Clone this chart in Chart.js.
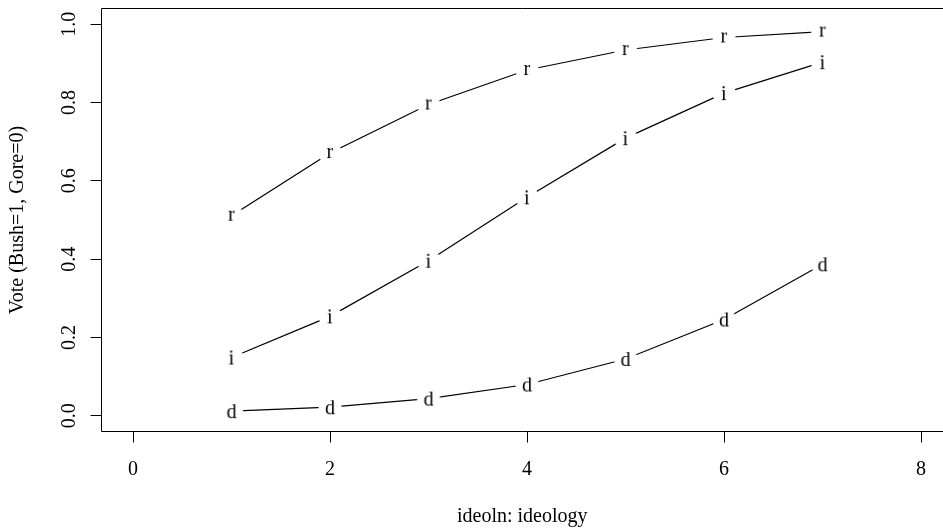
<!DOCTYPE html>
<html>
<head>
<meta charset="utf-8">
<script src="https://cdn.jsdelivr.net/npm/chart.js@4/dist/chart.umd.min.js"></script>
<style>
  html, body { margin: 0; padding: 0; background: #fff; overflow: hidden; }
  canvas { display: block; }
</style>
</head>
<body>
<canvas id="c" width="943" height="529"></canvas>
<script>
// ---- data ----
const ideology = [1, 2, 3, 4, 5, 6, 7];
const repVote  = [0.511, 0.671, 0.795, 0.883, 0.934, 0.966, 0.981];
const indVote  = [0.149, 0.254, 0.396, 0.558, 0.709, 0.824, 0.903];
const demVote  = [0.012, 0.022, 0.044, 0.080, 0.145, 0.246, 0.387];
const seriesLetters = ['r', 'i', 'd'];
const xTicks = [0, 2, 4, 6, 8];
const xTickLabels = ['0', '2', '4', '6', '8'];
const yTicks = [0, 0.2, 0.4, 0.6, 0.8, 1.0];
const yTickLabels = ['0.0', '0.2', '0.4', '0.6', '0.8', '1.0'];
const xTitle = 'ideoln: ideology';
const yTitle = 'Vote (Bush=1, Gore=0)';

const FAMILY = '"Liberation Serif", "Times New Roman", serif';
const FSIZE = 20;

// letter markers with a white gap around them (like R type = "b")
function letterMarker(ch) {
  const c = document.createElement('canvas');
  c.width = 30; c.height = 30;
  const g = c.getContext('2d');
  g.fillStyle = '#fff';
  g.beginPath(); g.arc(15, 15, 11.5, 0, Math.PI * 2); g.fill();
  g.font = FSIZE + 'px ' + FAMILY;
  g.fillStyle = '#000';
  g.textBaseline = 'alphabetic';
  g.textAlign = 'left';
  const m = g.measureText(ch);
  const L = m.actualBoundingBoxLeft, R = m.actualBoundingBoxRight;
  const A = m.actualBoundingBoxAscent, D = m.actualBoundingBoxDescent;
  g.fillText(ch, 15 - (R - L) / 2, 15 + (A - D) / 2);
  return c;
}

function toPoints(ys) { return ideology.map((x, k) => ({ x: x, y: ys[k] })); }

const seriesValues = [repVote, indVote, demVote];
const datasets = seriesValues.map((vals, k) => ({
  label: seriesLetters[k],
  data: toPoints(vals),
  borderColor: '#000',
  borderWidth: 1.2,
  tension: 0,
  fill: false,
  pointStyle: letterMarker(seriesLetters[k]),
  pointRadius: 3,
  pointHoverRadius: 3
}));

// plot frame: the right side of the frame lies outside the cropped picture
const boxPlugin = {
  id: 'box',
  afterDatasetsDraw(chart) {
    const { ctx, chartArea: a } = chart;
    ctx.save();
    ctx.strokeStyle = '#000';
    ctx.lineWidth = 1;
    ctx.beginPath();
    ctx.moveTo(a.right, a.top);
    ctx.lineTo(a.left, a.top);
    ctx.lineTo(a.left, a.bottom);
    ctx.lineTo(a.right, a.bottom);
    ctx.stroke();
    // keep the cropped right edge open (no right frame side in view)
    ctx.fillStyle = '#fff';
    ctx.fillRect(a.right - 3, a.top + 1, 3, a.bottom - a.top - 2);
    ctx.restore();
  }
};

function noPad(s) { s.paddingTop = 0; s.paddingBottom = 0; s.paddingLeft = 0; s.paddingRight = 0; }

const tickFont = { family: FAMILY, size: FSIZE, lineHeight: 1.2 };

new Chart(document.getElementById('c'), {
  type: 'line',
  data: { datasets: datasets },
  plugins: [boxPlugin],
  options: {
    responsive: false,
    animation: false,
    devicePixelRatio: 1,
    events: [],
    layout: { autoPadding: false, padding: { left: 0, top: 8.5, right: 0, bottom: 0 } },
    plugins: { legend: { display: false }, tooltip: { enabled: false } },
    scales: {
      x: {
        type: 'linear',
        min: -0.32, max: 8.223,
        afterBuildTicks: s => { s.ticks = xTicks.map(v => ({ value: v })); },
        afterFit: s => { s.height = 97.5; noPad(s); },
        grid: { drawOnChartArea: false, drawTicks: true, tickLength: 11, color: '#000', lineWidth: 1 },
        border: { display: false },
        ticks: {
          color: '#000', font: tickFont, padding: 15, maxRotation: 0, autoSkip: false,
          callback: (v) => { const k = xTicks.indexOf(v); return k >= 0 ? xTickLabels[k] : ''; }
        },
        title: { display: true, text: xTitle, color: '#000', font: { family: FAMILY, size: FSIZE, lineHeight: 0.9 }, padding: { top: 0, bottom: 3.4 } }
      },
      y: {
        type: 'linear',
        min: -0.04, max: 1.04,
        afterBuildTicks: s => { s.ticks = yTicks.map(v => ({ value: v })); },
        afterFit: s => { s.width = 101.5; noPad(s); },
        grid: { drawOnChartArea: false, drawTicks: true, tickLength: 11, color: '#000', lineWidth: 1 },
        border: { display: false },
        ticks: {
          color: '#000', font: tickFont, padding: 7.8, minRotation: 90, maxRotation: 90,
          crossAlign: 'center', autoSkip: false,
          callback: (v) => { const k = yTicks.findIndex(t => Math.abs(t - v) < 1e-9); return k >= 0 ? yTickLabels[k] : ''; }
        },
        title: { display: true, text: yTitle, color: '#000', font: { family: FAMILY, size: FSIZE, lineHeight: 1.0 }, padding: { top: 8, bottom: 0 } }
      }
    }
  }
});
</script>
</body>
</html>
